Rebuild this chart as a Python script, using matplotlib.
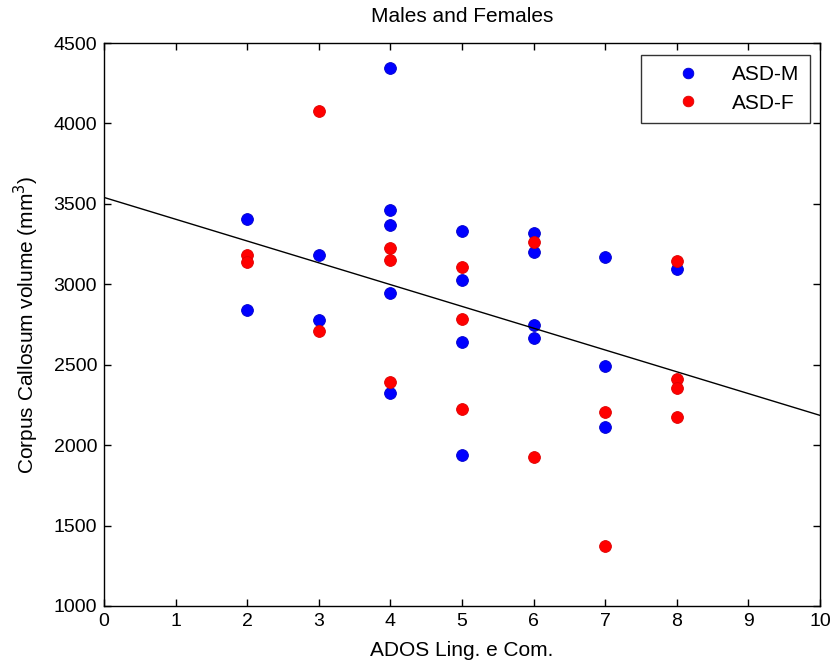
import matplotlib
matplotlib.use("Agg")
import matplotlib.pyplot as plt
import numpy as np

plt.rcParams['font.family'] = ['Liberation Sans', 'DejaVu Sans']

# ASD-M (males)
male_x = [2, 2, 3, 3, 4, 4, 4, 4, 4, 5, 5, 5, 5, 6, 6, 6, 6, 7, 7, 7, 8]
male_y = [3408, 2838, 3180, 2775, 4342, 3459, 3366, 2948, 2323,
          3334, 3029, 2639, 1938, 3320, 3200, 2744, 2664, 3170, 2490, 2110, 3097]

# ASD-F (females)
female_x = [2, 2, 3, 3, 4, 4, 4, 5, 5, 5, 6, 6, 7, 7, 8, 8, 8, 8]
female_y = [3180, 3140, 4075, 2710, 3226, 3153, 2390, 3110, 2787, 2222,
            3262, 1928, 2207, 1371, 3147, 2411, 2355, 2172]

# regression line
line_intercept = 3540
line_slope = -135.5
line_x = [0, 10]

fig = plt.figure(figsize=(8.32, 6.69), dpi=100)
ax = fig.add_axes([0.125, 0.0942, 0.8606, 0.8415])

ax.plot(male_x, male_y, 'o', color='#0000ff', markersize=8.5, markeredgecolor='#0000cc',
        markeredgewidth=0.6, label='ASD-M', linestyle='none')
ax.plot(female_x, female_y, 'o', color='#ff0000', markersize=8.5, markeredgecolor='#dd0000',
        markeredgewidth=0.6, label='ASD-F', linestyle='none')
lx = np.array(line_x, dtype=float)
ax.plot(lx, line_intercept + line_slope * lx, color='black', linewidth=1.0)

ax.set_xlim(0, 10)
ax.set_ylim(1000, 4500)
ax.set_xticks(range(0, 11))
ax.set_yticks(range(1000, 4501, 500))
ax.tick_params(direction='in', top=True, right=True, length=5, labelsize=14, width=1, pad=5)
for s in ax.spines.values():
    s.set_linewidth(1.0)

ax.set_title('Males and Females', fontsize=15, pad=15)
ax.set_xlabel('ADOS Ling. e Com.', fontsize=15, labelpad=8)
ax.set_ylabel('Corpus Callosum volume (mm$^3$)', fontsize=15, labelpad=9)

leg = ax.legend(loc='upper right', bbox_to_anchor=(0.986, 0.979), fontsize=15,
                frameon=True, fancybox=False, edgecolor='black', shadow=False,
                borderpad=0.5, labelspacing=0.45, handletextpad=0.3, borderaxespad=0,
                handlelength=3.6, markerscale=0.9)
leg.get_frame().set_linewidth(1.0)

fig.savefig('out.png', dpi=100)
